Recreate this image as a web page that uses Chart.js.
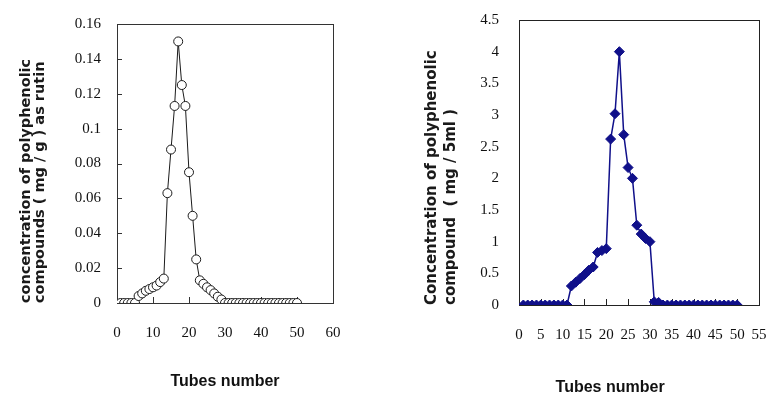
<!DOCTYPE html>
<html>
<head>
<meta charset="utf-8">
<script src="https://cdn.jsdelivr.net/npm/chart.js@4.4.1/dist/chart.umd.min.js"></script>
<style>
  html, body { margin: 0; padding: 0; background: #fff; }
  #wrap { position: relative; width: 769px; height: 395px; overflow: hidden; }
  canvas { position: absolute; top: 0; }
  #left { left: 0; }
  #right { left: 385px; }
</style>
</head>
<body>
<div id="wrap">
  <canvas id="left" width="385" height="395"></canvas>
  <canvas id="right" width="384" height="395"></canvas>
</div>
<script>
// --- datos ---
const tubes = [1, 2, 3, 4, 5, 6, 7, 8, 9, 10, 11, 12, 13, 14, 15, 16, 17, 18, 19, 20,
    21, 22, 23, 24, 25, 26, 27, 28, 29, 30, 31, 32, 33, 34, 35, 36, 37, 38, 39, 40,
    41, 42, 43, 44, 45, 46, 47, 48, 49, 50];

// mg/g como rutina
const rutinValues = [0, 0, 0, 0, 0, 0.004, 0.0055, 0.007, 0.008, 0.009,
    0.010, 0.012, 0.014, 0.063, 0.088, 0.113, 0.150, 0.125, 0.113, 0.075,
    0.050, 0.025, 0.013, 0.011, 0.009, 0.0074, 0.0055, 0.0036, 0.002, 0,
    0, 0, 0, 0, 0, 0, 0, 0, 0, 0,
    0, 0, 0, 0, 0, 0, 0, 0, 0, 0];

// mg/5ml
const compoundValues = [0, 0, 0, 0, 0, 0, 0, 0, 0, 0,
    0, 0.30, 0.36, 0.42, 0.48, 0.55, 0.60, 0.83, 0.86, 0.89,
    2.62, 3.02, 4.00, 2.69, 2.17, 2.00, 1.26, 1.12, 1.05, 1.00,
    0.05, 0.04, 0, 0, 0, 0, 0, 0, 0, 0,
    0, 0, 0, 0, 0, 0, 0, 0, 0, 0];

const leftXTicks = [0, 10, 20, 30, 40, 50, 60];
const leftYTicks = [0, 0.02, 0.04, 0.06, 0.08, 0.1, 0.12, 0.14, 0.16];
const rightXTicks = [0, 5, 10, 15, 20, 25, 30, 35, 40, 45, 50, 55];
const rightYTicks = [0, 0.5, 1, 1.5, 2, 2.5, 3, 3.5, 4, 4.5];

const leftYTitle = ['concentration of polyphenolic', 'compounds ( mg / g ) as rutin'];
const rightYTitle = ['Concentration of polyphenolic', 'compound  ( mg / 5ml )'];
const xTitle = 'Tubes number';

// --- marco y marcas hacia dentro ---
const framePlugin = {
    id: 'frame',
    beforeDatasetsDraw(chart, args, opts) {
        const { ctx, chartArea: a, scales } = chart;
        ctx.save();
        ctx.strokeStyle = opts.color;
        ctx.lineWidth = 1;
        ctx.strokeRect(Math.round(a.left) + 0.5, Math.round(a.top) + 0.5,
            Math.round(a.right - a.left), Math.round(a.bottom - a.top));
        ctx.beginPath();
        if (opts.xTick) {
            scales.x.ticks.forEach(t => {
                const px = Math.round(scales.x.getPixelForValue(t.value)) + 0.5;
                ctx.moveTo(px, a.bottom);
                ctx.lineTo(px, a.bottom - opts.xTick);
            });
        }
        if (opts.yTick) {
            scales.y.ticks.forEach(t => {
                const py = Math.round(scales.y.getPixelForValue(t.value)) + 0.5;
                ctx.moveTo(a.left, py);
                ctx.lineTo(a.left + opts.yTick, py);
            });
        }
        ctx.stroke();
        ctx.restore();
    }
};

const tickFont = { family: '"Liberation Serif", "Times New Roman", serif', size: 15 };
const titleFont = { family: '"Liberation Sans", Arial, sans-serif', size: 16, weight: 'bold', lineHeight: 1.2 };

function fixedTicks(list) {
    return function (scale) {
        scale.ticks = list.map(v => ({ value: v }));
    };
}

function makeChart(id, cfg) {
    const points = tubes.map((t, i) => ({ x: t, y: cfg.values[i] }));
    return new Chart(document.getElementById(id).getContext('2d'), {
        type: 'line',
        data: {
            datasets: [{
                data: points,
                borderColor: cfg.lineColor,
                borderWidth: cfg.lineWidth,
                pointStyle: cfg.pointStyle,
                pointRadius: cfg.pointRadius,
                pointBackgroundColor: cfg.pointFill,
                pointBorderColor: cfg.lineColor,
                pointBorderWidth: 1,
                tension: 0
            }]
        },
        options: {
            responsive: false,
            animation: false,
            devicePixelRatio: 1,
            layout: { padding: cfg.padding },
            plugins: {
                legend: { display: false },
                tooltip: { enabled: false },
                frame: cfg.frame
            },
            scales: {
                x: {
                    type: 'linear',
                    min: cfg.xTicks[0],
                    max: cfg.xTicks[cfg.xTicks.length - 1],
                    afterBuildTicks: fixedTicks(cfg.xTicks),
                    // tamaño fijo, sin relleno extra de etiquetas
                    afterFit(s) { s.height = cfg.xHeight; s.paddingLeft = 0; s.paddingRight = 0; },
                    grid: { display: false, drawTicks: false },
                    border: { display: false },
                    ticks: {
                        autoSkip: false, maxRotation: 0, padding: cfg.xPad,
                        color: '#111', font: tickFont, callback: v => String(v)
                    },
                    title: {
                        display: true, text: cfg.xTitleText, color: '#111',
                        font: titleFont, padding: { top: 0, bottom: cfg.xTitlePad }
                    }
                },
                y: {
                    min: cfg.yTicks[0],
                    max: cfg.yTicks[cfg.yTicks.length - 1],
                    afterBuildTicks: fixedTicks(cfg.yTicks),
                    afterFit(s) { s.width = cfg.yWidth; s.paddingTop = 0; s.paddingBottom = 0; },
                    grid: { display: false, drawTicks: false },
                    border: { display: false },
                    ticks: { padding: cfg.yPad, color: '#111', font: tickFont, callback: v => String(v) },
                    title: {
                        display: true, text: cfg.yTitle, color: '#1a1a1a', align: 'start',
                        font: cfg.yTitleFont, padding: { top: cfg.yTitlePad, bottom: 0 }
                    }
                }
            }
        },
        plugins: [framePlugin]
    });
}

document.addEventListener('DOMContentLoaded', function () {
    // izquierda: círculos blancos
    makeChart('left', {
        values: rutinValues,
        lineColor: '#1a1a1a', lineWidth: 1,
        pointStyle: 'circle', pointRadius: 4.5, pointFill: '#fff',
        padding: { top: 24, right: 52, left: 0, bottom: 0 },
        xTicks: leftXTicks, yTicks: leftYTicks,
        xHeight: 92, yWidth: 117, xPad: 21, yPad: 16,
        xTitleText: xTitle, xTitlePad: 4,
        yTitle: leftYTitle,
        yTitleFont: { family: '"DejaVu Sans", sans-serif', size: 14.5, weight: 'bold', lineHeight: 0.97 },
        yTitlePad: 19,
        frame: { color: '#333', xTick: 6, yTick: 5 }
    });

    // derecha: rombos azul marino
    makeChart('right', {
        values: compoundValues,
        lineColor: '#10108a', lineWidth: 1.5,
        pointStyle: 'rectRot', pointRadius: 5, pointFill: '#10108a',
        padding: { top: 20, right: 10, left: 0, bottom: 0 },
        xTicks: rightXTicks, yTicks: rightYTicks,
        xHeight: 90, yWidth: 134, xPad: 21, yPad: 20,
        xTitleText: xTitle + '             ', xTitlePad: -2,
        yTitle: rightYTitle,
        yTitleFont: { family: '"DejaVu Sans", sans-serif', size: 15, weight: 'bold', lineHeight: 1.27 },
        yTitlePad: 38,
        frame: { color: '#222', xTick: 6, yTick: 0 }
    });
});
</script>
</body>
</html>
